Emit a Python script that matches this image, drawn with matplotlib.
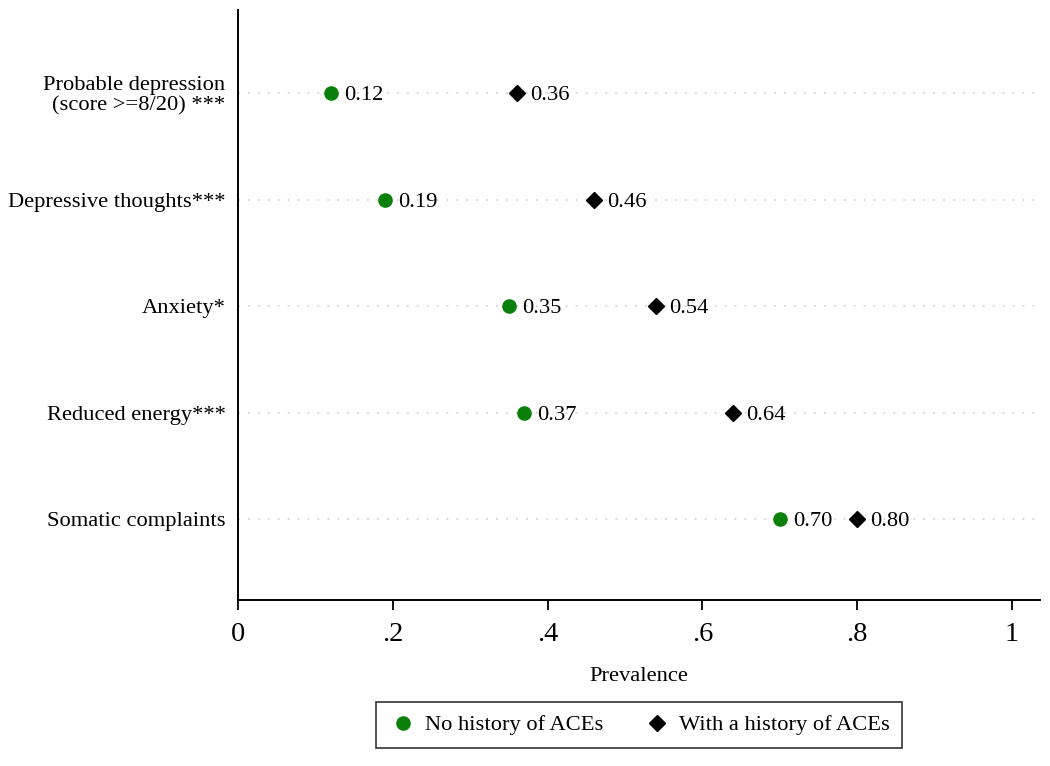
import numpy as np
import matplotlib
matplotlib.use('Agg')
import matplotlib.pyplot as plt
from matplotlib.lines import Line2D

plt.rcParams['font.family'] = ['Liberation Serif', 'DejaVu Serif']

#### ========== Data ==========

categories = ['Probable depression\n(score >=8/20) ***',
              'Depressive thoughts***',
              'Anxiety*',
              'Reduced energy***',
              'Somatic complaints']

noACE   = [0.12, 0.19, 0.35, 0.37, 0.70]
withACE = [0.36, 0.46, 0.54, 0.64, 0.80]

xTicks      = [0, 0.2, 0.4, 0.6, 0.8, 1.0]
xTickLabels = ['0', '.2', '.4', '.6', '.8', '1']

green = '#0a800a'

#### ==========================

nCat = len(categories)
yPos = np.arange(nCat)
fs = 16.2

fig = plt.figure(figsize=(10.5, 7.66), dpi=100)
ax = fig.add_axes([238/1050, 1 - 600/766, (1040 - 238)/1050, (600 - 10)/766])

for y in yPos:
    ax.axhline(y, color='#d4d4d4', lw=1.3, ls=(0, (1, 4.5)), zorder=1)

ax.plot(noACE, yPos, 'o', color=green, markersize=9.5, ls='none', zorder=3)
ax.plot(withACE, yPos, 'D', color='black', markersize=8.5, ls='none', zorder=3)

# value labels just right of each marker
for xv, y in zip(noACE, yPos):
    ax.annotate('{:.2f}'.format(xv), (xv, y), xytext=(9.5, -1.8),
                textcoords='offset points', va='center', ha='left', fontsize=fs)
for xv, y in zip(withACE, yPos):
    ax.annotate('{:.2f}'.format(xv), (xv, y), xytext=(9.5, -1.8),
                textcoords='offset points', va='center', ha='left', fontsize=fs)

ax.set_xlim(0, 802/774)
ax.set_ylim(nCat - 1 + 0.76, -0.78)

ax.set_yticks(yPos)
ax.set_yticklabels(categories, fontsize=fs, linespacing=1.05)
ax.tick_params(axis='y', length=0, pad=9)

ax.set_xticks(xTicks)
ax.set_xticklabels(xTickLabels, fontsize=20.5)
ax.tick_params(axis='x', direction='out', length=7.5, width=1.3, pad=8)

for s in ['top', 'right']:
    ax.spines[s].set_visible(False)
for s in ['left', 'bottom']:
    ax.spines[s].set_linewidth(1.4)

ax.set_xlabel('Prevalence', fontsize=fs, labelpad=15)

handles = [Line2D([], [], marker='o', color=green, ls='none', markersize=9.5),
           Line2D([], [], marker='D', color='black', ls='none', markersize=8.5)]
leg = fig.legend(handles, ['No history of ACEs', 'With a history of ACEs'],
                 loc='center', bbox_to_anchor=(639/1050, 1 - 725/766),
                 ncol=2, fontsize=fs, frameon=True, fancybox=False,
                 edgecolor='black', handletextpad=0.35, columnspacing=1.7,
                 borderpad=0.55, handlelength=1.3, borderaxespad=0)
leg.get_frame().set_linewidth(1.2)

fig.savefig('out.png', dpi=100, facecolor='white')
